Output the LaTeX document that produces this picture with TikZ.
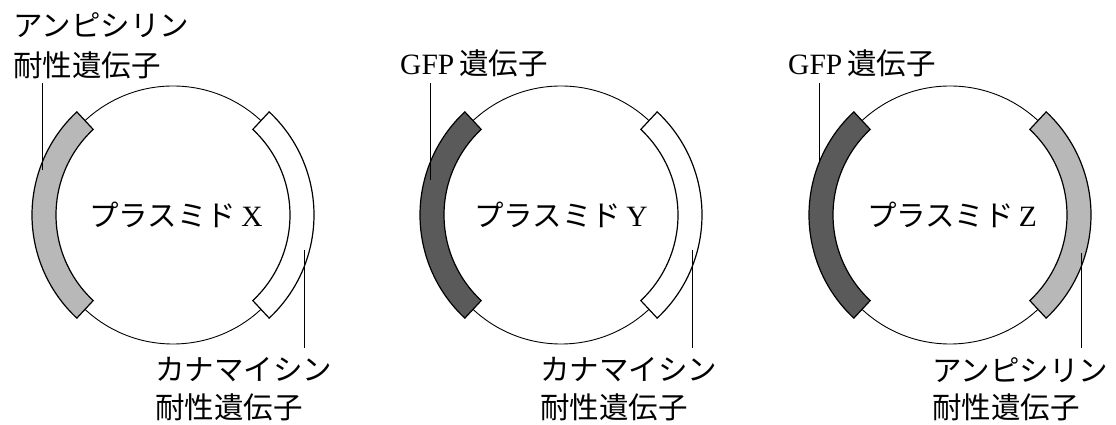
\documentclass[tikz,border=0pt]{standalone}
\usepackage{fontspec}
\setmainfont{Liberation Serif}
\newfontfamily\jp{Noto Sans CJK JP}
\definecolor{ampgray}{HTML}{B8B8B8}
\definecolor{gfpgray}{HTML}{5A5A5A}

\begin{document}
\begin{tikzpicture}[x=1pt, y=1pt,
    ring/.style = {black, line width=0.9pt},
    gene/.style = {black, line width=1.2pt},
    leader/.style = {black, line width=0.9pt},
    lbl/.style = {anchor=west, inner sep=0pt, font=\fontsize{29.5}{35}\selectfont},
    title/.style = {inner sep=0pt, font=\fontsize{29.5}{35}\selectfont}]
    \useasboundingbox (0,0) rectangle (1116,425);

    % plasmid X
    \begin{scope}[shift={(173,210)}]
        \draw[ring] (0,0) circle (129);
        \draw[gene, fill=ampgray] (133:117) arc (133:227:117) -- (227:141) arc (227:133:141) -- cycle;
        \draw[gene, fill=white] (-47:117) arc (-47:47:117) -- (47:141) arc (47:-47:141) -- cycle;
        \node[title] (plasX) at (3,0) {{\jp プラスミド}\,X};
    \end{scope}
    \node[lbl] (ampX) at (13,400) {\jp アンピシリン};
    \node[lbl] (ampXb) at (13,360) {\jp 耐性遺伝子};
    \node[lbl] (kanX) at (155,55) {\jp カナマイシン};
    \node[lbl] (kanXb) at (155,18) {\jp 耐性遺伝子};
    \coordinate (ampXtop) at (42,342);
    \coordinate (ampXend) at (42,255);
    \coordinate (kanXtop) at (304,175);
    \coordinate (kanXend) at (304,77);
    \draw[leader] (ampXtop) -- (ampXend);
    \draw[leader] (kanXtop) -- (kanXend);

    % plasmid Y
    \begin{scope}[shift={(561,210)}]
        \draw[ring] (0,0) circle (129);
        \draw[gene, fill=gfpgray] (133:117) arc (133:227:117) -- (227:141) arc (227:133:141) -- cycle;
        \draw[gene, fill=white] (-47:117) arc (-47:47:117) -- (47:141) arc (47:-47:141) -- cycle;
        \node[title] (plasY) at (0,0) {{\jp プラスミド}\,Y};
    \end{scope}
    \node[lbl] (gfpY) at (400,362) {GFP\,{\jp 遺伝子}};
    \node[lbl] (kanY) at (540,55) {\jp カナマイシン};
    \node[lbl] (kanYb) at (540,18) {\jp 耐性遺伝子};
    \coordinate (gfpYtop) at (430,342);
    \coordinate (gfpYend) at (430,245);
    \coordinate (kanYtop) at (692,175);
    \coordinate (kanYend) at (692,77);
    \draw[leader] (gfpYtop) -- (gfpYend);
    \draw[leader] (kanYtop) -- (kanYend);

    % plasmid Z
    \begin{scope}[shift={(950,210)}]
        \draw[ring] (0,0) circle (129);
        \draw[gene, fill=gfpgray] (133:117) arc (133:227:117) -- (227:141) arc (227:133:141) -- cycle;
        \draw[gene, fill=ampgray] (-47:117) arc (-47:47:117) -- (47:141) arc (47:-47:141) -- cycle;
        \node[title] (plasZ) at (2,0) {{\jp プラスミド}\,Z};
    \end{scope}
    \node[lbl] (gfpZ) at (788,362) {GFP\,{\jp 遺伝子}};
    \node[lbl] (ampZ) at (932,55) {\jp アンピシリン};
    \node[lbl] (ampZb) at (932,18) {\jp 耐性遺伝子};
    \coordinate (gfpZtop) at (819,342);
    \coordinate (gfpZend) at (819,262);
    \coordinate (ampZtop) at (1081,172);
    \coordinate (ampZend) at (1081,77);
    \draw[leader] (gfpZtop) -- (gfpZend);
    \draw[leader] (ampZtop) -- (ampZend);
\end{tikzpicture}
\end{document}
